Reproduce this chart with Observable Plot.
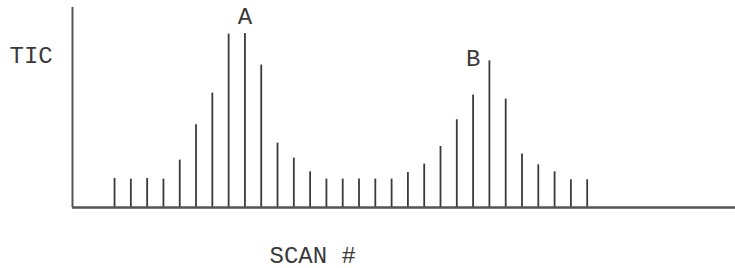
<!DOCTYPE html>
<html>
<head>
<meta charset="utf-8">
<script src="https://cdn.jsdelivr.net/npm/d3@7"></script>
<script src="https://cdn.jsdelivr.net/npm/@observablehq/plot@0.6"></script>
<style>
  html, body { margin: 0; padding: 0; background: #fff; }
  svg { display: block; }
</style>
</head>
<body>
<div id="chart"></div>
<script>
// Scan numbers (one spike per scan)
const scans = d3.range(1, 31);
// Total ion current per scan (arbitrary units)
const tic = [29, 28.4, 29, 28.4, 47.4, 82.7, 114.4, 173.4, 174, 142.4,
             64.4, 49.4, 35.7, 28.4, 28.4, 28.4, 28.4, 28.4, 35, 43.4,
             61, 87.7, 112.4, 146.7, 108.4, 53.4, 42.7, 35.7, 27.7, 27.7];
// Peak labels
const peakNames = ["A", "B"];
const peakScans = [9, 23];
const peakLabelY = [183.5, 142];

const data = scans.map((s, i) => ({scan: s, tic: tic[i]}));
const peaks = peakNames.map((n, i) => ({name: n, scan: peakScans[i], y: peakLabelY[i]}));

const xDomain = [-1.58, 39.1];
const ink = "#3a3a3a";
const font = "'Liberation Mono', 'DejaVu Sans Mono', monospace";

const chart = Plot.plot({
  width: 735,
  height: 268,
  marginLeft: 72,
  marginRight: 0,
  marginTop: 7,
  marginBottom: 61,
  style: {fontFamily: font, background: "#fff"},
  x: {domain: xDomain, axis: null},
  y: {domain: [0, 200], axis: null},
  marks: [
    Plot.ruleX(data, {x: "scan", y1: 0, y2: "tic", stroke: ink, strokeWidth: 1.8}),
    Plot.ruleY([0], {stroke: "#555", strokeWidth: 2.5}),
    Plot.ruleX([xDomain[0]], {y1: 0, y2: 200, stroke: "#555", strokeWidth: 2}),
    Plot.text(peaks, {x: "scan", y: "y", text: "name", fontSize: 24, fill: ink,
      lineAnchor: "bottom", fontFamily: font}),
    Plot.text(["TIC"], {frameAnchor: "top-left", text: d => d, dx: -63, dy: 55,
      textAnchor: "start", lineAnchor: "bottom", fontSize: 24, letterSpacing: 2.2, fill: ink, fontFamily: font}),
    Plot.text(["SCAN #"], {frameAnchor: "bottom-left", text: d => d, dx: 197, dy: 55,
      textAnchor: "start", lineAnchor: "bottom", fontSize: 24, letterSpacing: 2.2, fill: ink, fontFamily: font})
  ]
});
document.getElementById("chart").appendChild(chart);
</script>
</body>
</html>
